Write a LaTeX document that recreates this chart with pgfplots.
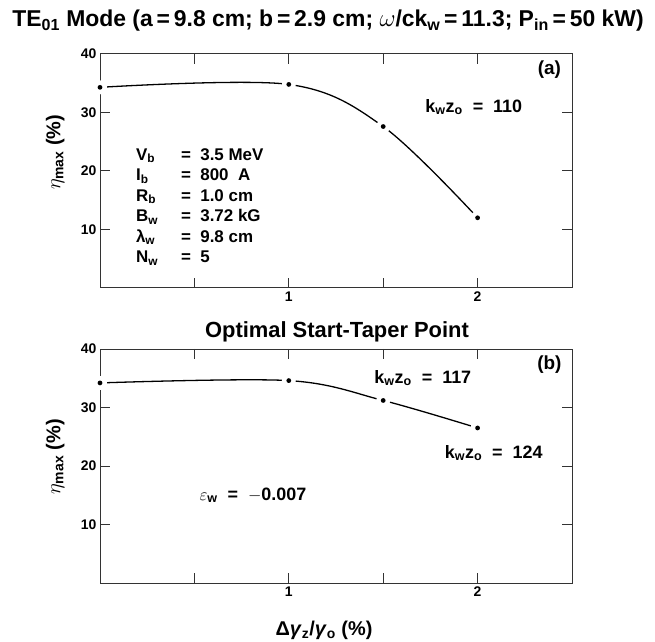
\documentclass[border=0pt]{standalone}
\usepackage{amsmath}
\usepackage{pgfplots}
\pgfplotsset{compat=1.18}
\usepackage{fontspec}
\setmainfont{Liberation Sans}

% bold text subscript
\newcommand{\sub}[1]{$_{\text{\bfseries #1}}$}

% data dot that leaves a small gap in the curve around it
\pgfdeclareplotmark{gapdot}{%
  \pgfpathcircle{\pgfpointorigin}{7pt}%
  \pgfsetfillcolor{white}\pgfusepathqfill
  \pgfpathcircle{\pgfpointorigin}{2.4pt}%
  \pgfsetfillcolor{black}\pgfusepathqfill}

\pgfplotstableread{
x   eta
0   34.3
1   34.8
1.5 27.6
2   12.0
}\taperA
\pgfplotstableread{
x   eta
0   34.2
1   34.6
1.5 31.2
2   26.5
}\taperB

\pgfplotsset{
  panel/.style={
    scale only axis, width=472bp, height=234bp,
    xmin=0, xmax=2.5, ymin=0, ymax=40,
    xtick={0.5,1,1.5,2}, xticklabels={,1,,2},
    ytick={10,20,30,40},
    tick align=inside, major tick length=10bp,
    axis line style={line width=1pt, black!80},
    every tick/.style={line width=1pt, black!80},
    tick label style={font=\bfseries\fontsize{14}{16}\selectfont},
    /pgf/number format/assume math mode=true,
    clip=false,
  },
  curve/.style={line width=1.3pt, black, smooth, tension=0.55, mark=gapdot},
}
\tikzset{
  lbl/.style={font=\bfseries\fontsize{18}{21}\selectfont},
  tag/.style={font=\bfseries\fontsize{19}{22}\selectfont},
  frame/.style={line width=1pt, black!80},
}

\begin{document}
\begin{tikzpicture}
\useasboundingbox (0bp,0bp) rectangle (655bp,642bp);

\node[font=\bfseries\fontsize{23}{27}\selectfont] at (328bp,621bp)
  {TE\sub{01} Mode (a\,=\,9.8 cm; b\,=\,2.9 cm; $\omega$/ck\sub{w}\,=\,11.3; P\sub{in}\,=\,50 kW)};

% (a) upper panel
\begin{axis}[panel, at={(100bp,354bp)}, anchor=south west]
  \addplot[curve] table[x=x, y=eta] {\taperA};
  % restore the left frame under the first dot
  \draw[frame] (axis cs:0,28) -- (axis cs:0,40);
  \node[rotate=90, font=\fontsize{20}{24}\selectfont] at (axis description cs:-0.095,0.58)
    {$\eta_{\text{\bfseries max}}$ \textbf{(\%)}};
  \node[tag] at (axis cs:2.38,37.3) {(a)};
  \node[lbl] at (axis cs:1.98,30.9)
    {k\sub{w}z\sub{o} \ = \ 110};
  \node[anchor=north west, inner sep=0pt, align=left,
        font=\bfseries\fontsize{17}{20.6}\selectfont] at (axis cs:0.19,23.9)
    {\makebox[45bp][l]{V\sub{b}}= \ 3.5 MeV\\
     \makebox[45bp][l]{I\sub{b}}= \ 800 \ A\\
     \makebox[45bp][l]{R\sub{b}}= \ 1.0 cm\\
     \makebox[45bp][l]{B\sub{w}}= \ 3.72 kG\\
     \makebox[45bp][l]{λ\sub{w}}= \ 9.8 cm\\
     \makebox[45bp][l]{N\sub{w}}= \ 5};
\end{axis}

\node[font=\bfseries\fontsize{22}{26}\selectfont] at (337bp,310bp) {Optimal Start-Taper Point};

% (b) lower panel
\begin{axis}[panel, at={(100bp,59bp)}, anchor=south west]
  \addplot[curve] table[x=x, y=eta] {\taperB};
  \draw[frame] (axis cs:0,28) -- (axis cs:0,40);
  \node[rotate=90, font=\fontsize{20}{24}\selectfont] at (axis description cs:-0.095,0.54)
    {$\eta_{\text{\bfseries max}}$ \textbf{(\%)}};
  \node[tag] at (axis cs:2.38,37.3) {(b)};
  \node[lbl] at (axis cs:1.71,35.0)
    {k\sub{w}z\sub{o} \ = \ 117};
  \node[lbl] at (axis cs:2.085,22.2)
    {k\sub{w}z\sub{o} \ = \ 124};
  \node[lbl] at (axis cs:0.81,15.0)
    {$\varepsilon$\sub{w} \ = \ $-$0.007};
\end{axis}

\node[font=\bfseries\fontsize{20}{24}\selectfont] at (324bp,12bp)
  {Δ\textit{γ}\sub{z}/\textit{γ}\sub{o} (\%)};
\end{tikzpicture}
\end{document}
